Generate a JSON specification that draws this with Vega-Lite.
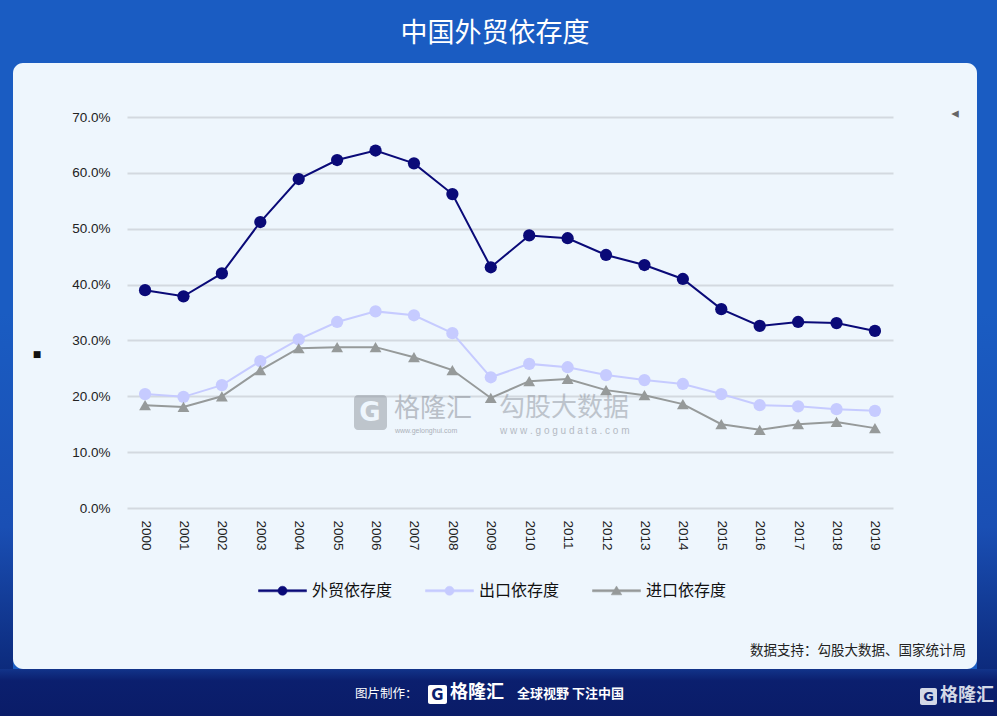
{
  "$schema": "https://vega.github.io/schema/vega-lite/v6.json",
  "autosize": "none",
  "width": 964,
  "height": 606,
  "padding": {"left": 13, "top": 63, "right": 20, "bottom": 47},
  "background": "#1a5cc2",
  "view": {"fill": "#eef6fd", "stroke": null, "cornerRadius": 10},
  "title": {"text": "中国外贸依存度", "color": "#ffffff", "fontSize": 27, "font": "Noto Sans CJK SC", "fontWeight": "normal", "anchor": "middle", "frame": "group", "offset": 16, "dy": 28, "baseline": "bottom"},
  "layer": [
    {
      "data": {"values": [
        {"year": "2000", "外贸依存度": 39.0, "出口依存度": 20.4, "进口依存度": 18.4},
        {"year": "2001", "外贸依存度": 37.9, "出口依存度": 19.9, "进口依存度": 18.1},
        {"year": "2002", "外贸依存度": 42.0, "出口依存度": 22.0, "进口依存度": 20.0},
        {"year": "2003", "外贸依存度": 51.2, "出口依存度": 26.3, "进口依存度": 24.7},
        {"year": "2004", "外贸依存度": 58.9, "出口依存度": 30.2, "进口依存度": 28.6},
        {"year": "2005", "外贸依存度": 62.3, "出口依存度": 33.3, "进口依存度": 28.8},
        {"year": "2006", "外贸依存度": 64.0, "出口依存度": 35.2, "进口依存度": 28.8},
        {"year": "2007", "外贸依存度": 61.7, "出口依存度": 34.5, "进口依存度": 27.0},
        {"year": "2008", "外贸依存度": 56.2, "出口依存度": 31.3, "进口依存度": 24.7},
        {"year": "2009", "外贸依存度": 43.1, "出口依存度": 23.4, "进口依存度": 19.7},
        {"year": "2010", "外贸依存度": 48.8, "出口依存度": 25.8, "进口依存度": 22.7},
        {"year": "2011", "外贸依存度": 48.3, "出口依存度": 25.2, "进口依存度": 23.1},
        {"year": "2012", "外贸依存度": 45.3, "出口依存度": 23.8, "进口依存度": 21.1},
        {"year": "2013", "外贸依存度": 43.5, "出口依存度": 22.9, "进口依存度": 20.2},
        {"year": "2014", "外贸依存度": 41.0, "出口依存度": 22.2, "进口依存度": 18.6},
        {"year": "2015", "外贸依存度": 35.6, "出口依存度": 20.4, "进口依存度": 15.0},
        {"year": "2016", "外贸依存度": 32.6, "出口依存度": 18.4, "进口依存度": 14.0},
        {"year": "2017", "外贸依存度": 33.3, "出口依存度": 18.2, "进口依存度": 15.0},
        {"year": "2018", "外贸依存度": 33.1, "出口依存度": 17.7, "进口依存度": 15.4},
        {"year": "2019", "外贸依存度": 31.7, "出口依存度": 17.4, "进口依存度": 14.3}
      ]},
      "transform": [{"fold": ["外贸依存度", "出口依存度", "进口依存度"], "as": ["series", "value"]}],
      "encoding": {
        "x": {"field": "year", "type": "ordinal",
          "scale": {"type": "point", "range": [114, 880], "padding": 0.47},
          "axis": {"title": null, "orient": "bottom", "offset": -152, "labelAngle": 90, "labelPadding": 3, "ticks": false, "domain": false, "grid": false,
            "labelFont": "Liberation Sans", "labelFontSize": 13.5, "labelColor": "#222222"}},
        "y": {"field": "value", "type": "quantitative",
          "scale": {"domain": [0, 70], "range": [445, 54], "nice": false, "zero": true},
          "axis": {"title": null, "values": [0, 10, 20, 30, 40, 50, 60, 70], "labelExpr": "format(datum.value, '.1f') + '%'",
            "offset": -100, "labelPadding": 3, "ticks": false, "domain": false, "grid": true, "gridColor": "#d3d9e0", "gridWidth": 2,
            "labelFont": "Liberation Sans", "labelFontSize": 13.5, "labelColor": "#222222"}},
        "color": {"field": "series", "type": "nominal",
          "scale": {"domain": ["外贸依存度", "出口依存度", "进口依存度"], "range": ["#0a0a78", "#c6cbff", "#969a9a"]},
          "legend": {"title": null, "orient": "none", "legendX": 245, "legendY": 503, "direction": "horizontal",
            "symbolSize": 2304, "symbolStrokeWidth": 0.5, "symbolOpacity": 1, "labelFont": "Noto Sans CJK SC", "labelFontSize": 16, "labelColor": "#111111",
            "labelOffset": 5, "columnPadding": 31}}
      },
      "layer": [
        {"mark": {"type": "line", "strokeWidth": 2}},
        {"mark": {"type": "point", "filled": true, "size": 0},
         "encoding": {"shape": {"field": "series", "type": "nominal",
           "scale": {"domain": ["外贸依存度", "出口依存度", "进口依存度"],
             "range": ["M-1,-0.045H1V0.045H-1ZM0.19,0A0.19,0.19 0 1,1 -0.19,0A0.19,0.19 0 1,1 0.19,0Z", "M-1,-0.045H1V0.045H-1ZM0.19,0A0.19,0.19 0 1,1 -0.19,0A0.19,0.19 0 1,1 0.19,0Z", "M-1,-0.045H1V0.045H-1ZM0,-0.2L0.22,0.17L-0.22,0.17Z"]},
           "legend": {"title": null, "orient": "none", "legendX": 245, "legendY": 503, "direction": "horizontal",
            "symbolSize": 2304, "symbolStrokeWidth": 0.5, "symbolOpacity": 1, "labelFont": "Noto Sans CJK SC", "labelFontSize": 16, "labelColor": "#111111",
            "labelOffset": 5, "columnPadding": 31}}}},
        {"transform": [{"filter": "datum.series !== '进口依存度'"}],
         "mark": {"type": "point", "filled": true, "opacity": 1, "size": 150, "shape": "circle"}},
        {"transform": [{"filter": "datum.series === '进口依存度'"}],
         "mark": {"type": "point", "filled": true, "opacity": 1, "size": 140, "shape": "triangle-up"}}
      ]
    },
    {"data": {"values": [{}]}, "mark": {"type": "rect", "x": 341, "x2": 374, "y": 332, "y2": 367, "cornerRadius": 4, "color": "#8e939c", "opacity": 0.5}, "encoding": {}},
    {"data": {"values": [{}]}, "mark": {"type": "text", "x": 357, "y": 350, "text": "G", "font": "DejaVu Sans", "fontWeight": "bold", "fontSize": 26, "color": "#eef6fd", "align": "center", "baseline": "middle"}, "encoding": {}},
    {"data": {"values": [{}]}, "mark": {"type": "text", "x": 381, "y": 346, "text": "格隆汇", "font": "Noto Sans CJK SC", "fontSize": 26, "color": "#8e939c", "opacity": 0.55, "align": "left", "baseline": "middle"}, "encoding": {}},
    {"data": {"values": [{}]}, "mark": {"type": "text", "x": 382, "y": 368, "text": "www.gelonghui.com", "font": "Liberation Sans", "fontSize": 7, "color": "#8e939c", "opacity": 0.7, "align": "left", "baseline": "middle"}, "encoding": {}},
    {"data": {"values": [{}]}, "mark": {"type": "rule", "x": 473, "x2": 473, "y": 332, "y2": 372, "color": "#9ea3ac", "opacity": 0.6, "strokeWidth": 1}, "encoding": {}},
    {"data": {"values": [{}]}, "mark": {"type": "text", "x": 486, "y": 345, "text": "勾股大数据", "font": "Noto Sans CJK SC", "fontSize": 26, "color": "#8e939c", "opacity": 0.5, "align": "left", "baseline": "middle"}, "encoding": {}},
    {"data": {"values": [{}]}, "mark": {"type": "text", "x": 487, "y": 368, "text": "w w w . g o g u d a t a . c o m", "font": "Liberation Sans", "fontSize": 10, "color": "#8e939c", "opacity": 0.6, "align": "left", "baseline": "middle"}, "encoding": {}},
    {"data": {"values": [{}]}, "mark": {"type": "text", "x": 24, "y": 291, "text": "■", "font": "DejaVu Sans", "fontSize": 9, "color": "#111111", "align": "center", "baseline": "middle"}, "encoding": {}},
    {"data": {"values": [{}]}, "mark": {"type": "text", "x": 942, "y": 50, "text": "◂", "font": "DejaVu Sans", "fontSize": 15, "color": "#666666", "align": "center", "baseline": "middle"}, "encoding": {}},
    {"data": {"values": [{}]}, "mark": {"type": "text", "x": 953, "y": 588, "text": "数据支持：勾股大数据、国家统计局", "font": "Noto Sans CJK SC", "fontSize": 13.5, "color": "#222222", "align": "right", "baseline": "middle"}, "encoding": {}},
    {"data": {"values": [{}]}, "mark": {"type": "rect", "x": -13, "x2": 0, "y": 250, "y2": 607, "fill": {"gradient": "linear", "x1": 0, "y1": 0, "x2": 0, "y2": 1, "stops": [{"offset": 0, "color": "#1a5cc2"}, {"offset": 0.6, "color": "#1a4fb4"}, {"offset": 1, "color": "#0c2a7c"}]}}, "encoding": {}},
    {"data": {"values": [{}]}, "mark": {"type": "rect", "x": 964, "x2": 984, "y": 250, "y2": 607, "fill": {"gradient": "linear", "x1": 0, "y1": 0, "x2": 0, "y2": 1, "stops": [{"offset": 0, "color": "#1a5cc2"}, {"offset": 0.6, "color": "#1a4fb4"}, {"offset": 1, "color": "#0c2a7c"}]}}, "encoding": {}},
    {"data": {"values": [{}]}, "mark": {"type": "rect", "x": -13, "x2": 984, "y": 606, "y2": 653, "fill": {"gradient": "linear", "x1": 0, "y1": 0, "x2": 0, "y2": 1, "stops": [{"offset": 0, "color": "#12348a"}, {"offset": 0.25, "color": "#0b1f6e"}, {"offset": 1, "color": "#0a1c68"}]}}, "encoding": {}},
    {"data": {"values": [{}]}, "mark": {"type": "text", "x": 342, "y": 631, "text": "图片制作：", "font": "Noto Sans CJK SC", "fontSize": 12.5, "color": "#ffffff", "align": "left", "baseline": "middle"}, "encoding": {}},
    {"data": {"values": [{}]}, "mark": {"type": "rect", "x": 415, "x2": 434, "y": 622, "y2": 641, "cornerRadius": 2, "color": "#ffffff"}, "encoding": {}},
    {"data": {"values": [{}]}, "mark": {"type": "text", "x": 424.5, "y": 632, "text": "G", "font": "DejaVu Sans", "fontWeight": "bold", "fontSize": 15, "color": "#0b1f6e", "align": "center", "baseline": "middle"}, "encoding": {}},
    {"data": {"values": [{}]}, "mark": {"type": "text", "x": 437, "y": 630, "text": "格隆汇", "font": "Noto Sans CJK SC", "fontWeight": "bold", "fontSize": 18, "color": "#ffffff", "align": "left", "baseline": "middle"}, "encoding": {}},
    {"data": {"values": [{}]}, "mark": {"type": "rule", "x": 492, "x2": 492, "y": 619, "y2": 643, "color": "#ffffff", "opacity": 0.45, "strokeWidth": 1}, "encoding": {}},
    {"data": {"values": [{}]}, "mark": {"type": "text", "x": 504, "y": 631, "text": "全球视野 下注中国", "font": "Noto Sans CJK SC", "fontWeight": "bold", "fontSize": 13, "color": "#ffffff", "align": "left", "baseline": "middle"}, "encoding": {}},
    {"data": {"values": [{}]}, "mark": {"type": "rect", "x": 907, "x2": 924, "y": 625, "y2": 642, "cornerRadius": 2, "color": "#d3d8e6"}, "encoding": {}},
    {"data": {"values": [{}]}, "mark": {"type": "text", "x": 915.5, "y": 634, "text": "G", "font": "DejaVu Sans", "fontWeight": "bold", "fontSize": 13, "color": "#0b1f6e", "align": "center", "baseline": "middle"}, "encoding": {}},
    {"data": {"values": [{}]}, "mark": {"type": "text", "x": 927, "y": 633, "text": "格隆汇", "font": "Noto Sans CJK SC", "fontWeight": "bold", "fontSize": 18, "color": "#d3d8e6", "align": "left", "baseline": "middle"}, "encoding": {}}
  ],
  "config": {
    "view": {"fill": "#eef6fd", "stroke": null, "cornerRadius": 10}
  }
}
